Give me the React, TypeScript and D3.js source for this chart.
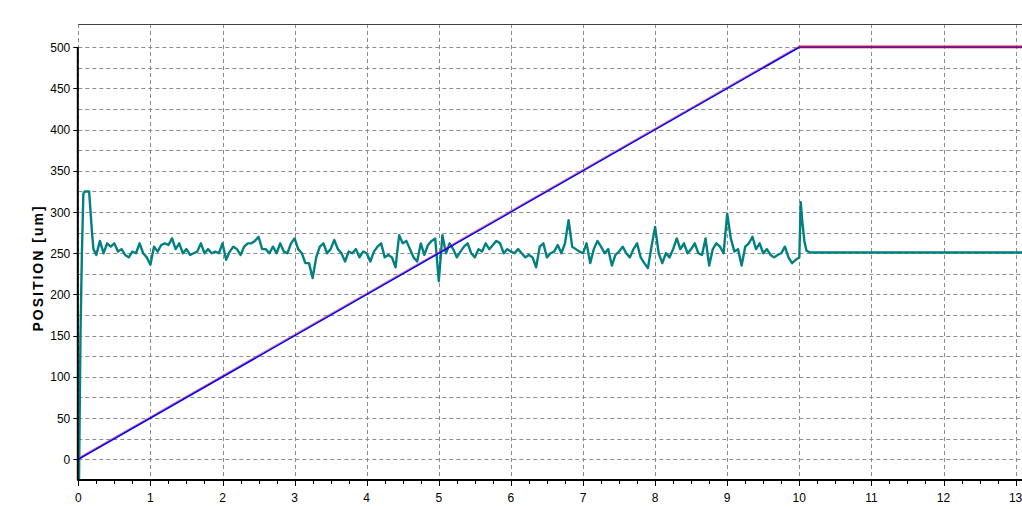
import React from 'react'
import * as d3 from 'd3'

// command / actual position ramp
const rampTimes = [0, 10, 13.1]
const rampValues = [0, 500, 500]

// error trace: start transient, sampled noise, end transient
const startTimes = [0, 0.01, 0.03, 0.05, 0.07, 0.09, 0.15, 0.17, 0.19, 0.21]
const startValues = [0, -25, 150, 250, 322, 325, 325, 300, 275, 255]

const noiseStart = 0.25
const noiseStep = 0.05
const noiseValues = [
  248, 265, 250, 262, 258, 262, 252, 255, 248, 245, 252, 250, 262, 250, 245,
  236, 258, 252, 260, 262, 260, 268, 255, 262, 250, 255, 248, 250, 252, 262,
  250, 255, 250, 252, 250, 262, 242, 252, 258, 255, 248, 258, 262, 262, 265,
  270, 255, 255, 250, 258, 250, 262, 252, 250, 262, 268, 255, 250, 238, 238,
  220, 245, 258, 262, 250, 255, 266, 255, 250, 240, 252, 250, 255, 245, 252,
  250, 240, 252, 258, 262, 245, 248, 245, 233, 272, 262, 265, 255, 245, 240,
  262, 248, 260, 265, 268, 216, 272, 250, 262, 255, 245, 252, 258, 262, 250,
  245, 255, 252, 262, 255, 260, 265, 262, 250, 255, 252, 250, 255, 250, 245,
  248, 245, 233, 258, 262, 245, 250, 252, 260, 250, 262, 290, 258, 255, 252,
  250, 262, 238, 255, 265, 258, 250, 255, 235, 248, 252, 258, 250, 245, 255,
  262, 245, 238, 232, 258, 282, 250, 238, 250, 245, 255, 268, 255, 262, 250,
  255, 262, 250, 248, 268, 235, 255, 262, 258, 250, 298, 268, 252, 255, 235,
  258, 262, 270, 255, 262, 250, 255, 248, 245, 248, 250, 258, 245, 238, 242,
  245,
]

const endTimes = [10.02, 10.04, 10.07, 10.1, 10.15, 13.1]
const endValues = [312, 290, 265, 253, 251, 251]

const xTicks = d3.range(0, 14)
const xMinorTicks = d3.range(0, 13.01, 0.25)
const yTicks = d3.range(0, 501, 50)
const yGrid = d3.range(0, 501, 25)

const W = 1022
const H = 509

export default function App() {
  const x = d3.scaleLinear().domain([0, 13]).range([78.3, 1015.6])
  const y = d3.scaleLinear().domain([0, 500]).range([459.3, 47.2])

  const top = 24
  const bottom = 480
  const left = x(0)

  type P = [number, number]
  const ramp: P[] = rampTimes.map((t, i) => [t, rampValues[i]])
  const trace: P[] = [
    ...startTimes.map((t, i): P => [t, startValues[i]]),
    ...noiseValues.map((v, i): P => [noiseStart + i * noiseStep, v]),
    ...endTimes.map((t, i): P => [t, endValues[i]]),
  ]

  const line = d3
    .line<P>()
    .x((d) => x(d[0]))
    .y((d) => y(d[1]))

  const font = '"Liberation Sans", Arial, sans-serif'

  return (
    <svg
      width={W}
      height={H}
      style={{ position: 'absolute', left: 0, top: 0, background: '#fff' }}
    >
      <defs>
        <clipPath id="plot">
          <rect x={left} y={top} width={W - left} height={bottom - top} />
        </clipPath>
      </defs>

      {/* grid */}
      {yGrid.map((v) => (
        <line
          key={'hy' + v}
          x1={left}
          x2={W}
          y1={Math.round(y(v)) + 0.5}
          y2={Math.round(y(v)) + 0.5}
          stroke="#8c8c8c"
          strokeDasharray="4 3"
        />
      ))}
      {xTicks.map((t) => (
        <line
          key={'vx' + t}
          x1={Math.round(x(t)) + 0.5}
          x2={Math.round(x(t)) + 0.5}
          y1={top}
          y2={bottom}
          stroke="#8c8c8c"
          strokeDasharray="4 3"
        />
      ))}

      {/* top border */}
      <line x1={left} x2={W} y1={top + 0.5} y2={top + 0.5} stroke="#444" />

      {/* series */}
      <g clipPath="url(#plot)" fill="none" strokeLinejoin="round">
        <path d={line(trace) ?? ''} stroke="#008080" strokeWidth={2.4} />
        <path
          d={line(ramp) ?? ''}
          stroke="#ff4040"
          strokeWidth={1}
          strokeOpacity={0.8}
          transform="translate(0,-1.4)"
        />
        <path d={line(ramp) ?? ''} stroke="#0000ff" strokeWidth={1.6} />
        <path
          d={line(ramp.slice(1)) ?? ''}
          stroke="#8a0a78"
          strokeWidth={2}
        />
      </g>

      {/* y axis */}
      <line
        x1={left - 0.5}
        x2={left - 0.5}
        y1={y(500)}
        y2={bottom}
        stroke="#000"
        strokeWidth={2}
      />
      {yTicks.map((v) => (
        <g key={'yt' + v}>
          <line
            x1={left - 5}
            x2={left}
            y1={Math.round(y(v)) + 0.5}
            y2={Math.round(y(v)) + 0.5}
            stroke="#000"
          />
          <text
            x={left - 8}
            y={y(v) + 4.5}
            textAnchor="end"
            fontFamily={font}
            fontSize={12}
            fill="#000"
          >
            {v}
          </text>
        </g>
      ))}

      {/* x axis */}
      <line x1={left - 1} x2={W} y1={bottom} y2={bottom} stroke="#000" strokeWidth={2} />
      {xMinorTicks.map((t) => (
        <line
          key={'xm' + t}
          x1={Math.round(x(t)) + 0.5}
          x2={Math.round(x(t)) + 0.5}
          y1={bottom}
          y2={bottom + 4}
          stroke="#000"
        />
      ))}
      {xTicks.map((t) => (
        <g key={'xt' + t}>
          <line
            x1={Math.round(x(t)) + 0.5}
            x2={Math.round(x(t)) + 0.5}
            y1={bottom}
            y2={bottom + 6}
            stroke="#000"
          />
          <text
            x={x(t)}
            y={502}
            textAnchor="middle"
            fontFamily={font}
            fontSize={12}
            fill="#000"
          >
            {t}
          </text>
        </g>
      ))}

      {/* axis titles */}
      <text
        transform={`translate(43,268) rotate(-90)`}
        textAnchor="middle"
        fontFamily={font}
        fontSize={14}
        fontWeight="bold"
        letterSpacing={2}
        fill="#000"
      >
        POSITION [um]
      </text>
      <text
        x={548}
        y={518}
        textAnchor="middle"
        fontFamily={font}
        fontSize={13}
        fontWeight="bold"
        fill="#000"
      >
        TIME [s]
      </text>
    </svg>
  )
}
